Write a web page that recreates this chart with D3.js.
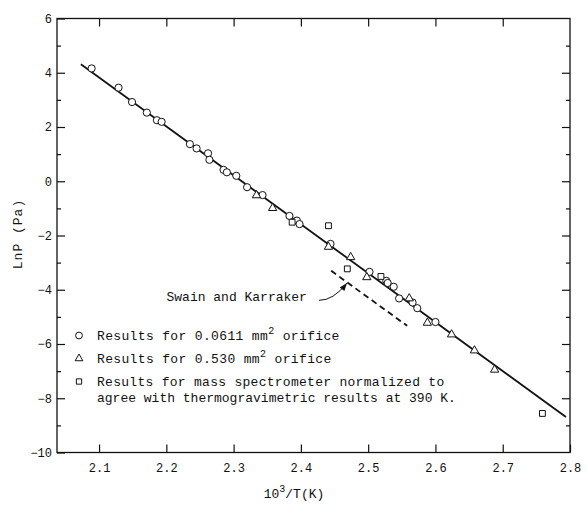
<!DOCTYPE html>
<html><head><meta charset="utf-8">
<script src="https://cdn.jsdelivr.net/npm/d3@7"></script>
<style>
html,body{margin:0;padding:0;background:#fff;}
text{font-family:"Liberation Mono","DejaVu Sans Mono",monospace;fill:#111;}
</style></head>
<body><svg id="c" width="587" height="509"></svg>
<script>
// ---- data ----
const circleX = [2.089,2.129,2.149,2.171,2.186,2.193,2.235,2.245,2.262,2.264,2.285,2.290,2.304,2.320,2.343,2.383,2.394,2.398,2.444,2.502,2.527,2.529,2.538,2.546,2.566,2.573,2.600];
const circleY = [4.16,3.45,2.92,2.53,2.25,2.19,1.37,1.21,1.03,0.79,0.42,0.33,0.20,-0.22,-0.51,-1.28,-1.45,-1.58,-2.31,-3.34,-3.67,-3.75,-3.89,-4.32,-4.47,-4.68,-5.19];
const triX = [2.334,2.358,2.441,2.474,2.498,2.561,2.588,2.624,2.658,2.688];
const triY = [-0.52,-0.99,-2.42,-2.80,-3.54,-4.32,-5.22,-5.65,-6.24,-6.95];
const sqX = [2.387,2.441,2.469,2.519,2.759];
const sqY = [-1.51,-1.64,-3.23,-3.51,-8.56];
const fitX = [2.073,2.794];
const fitY = [4.31,-8.69];
const skX = [2.445,2.558];
const skY = [-3.30,-5.33];
const arrowX = [2.427,2.448,2.4685];
const arrowY = [-4.39,-4.40,-3.75];
const xTicks = [2.1,2.2,2.3,2.4,2.5,2.6,2.7,2.8];
const yTicks = [-10,-8,-6,-4,-2,0,2,4,6];
const yMinor = [-9,-7,-5,-3,-1,1,3,5];
const legendLabels = ["Results for 0.0611 mm","Results for 0.530 mm","Results for mass spectrometer normalized to","agree with thermogravimetric results at 390 K."];

// ---- chart ----
const svg = d3.select("#c");
const L=57,R=570,T=18.5,B=452.5;
const x = d3.scaleLinear().domain([2.0375,2.8]).range([L,R]);
const y = d3.scaleLinear().domain([-10,6]).range([B,T]);

svg.append("rect").attr("width",587).attr("height",509).attr("fill","#fff");

const ax = (g)=>{g.select(".domain").remove(); g.selectAll("line").attr("stroke","#111").attr("stroke-width",1.2); g.selectAll("text").style("font-size","12px").style("font-family","Liberation Mono, DejaVu Sans Mono, monospace").attr("fill","#111");};

svg.append("g").attr("transform",`translate(0,${B})`)
  .call(d3.axisBottom(x).tickValues(xTicks).tickSize(-8).tickPadding(11).tickFormat(d3.format(".1f"))).call(ax);
svg.append("g").attr("transform",`translate(0,${T})`)
  .call(d3.axisTop(x).tickValues(xTicks.slice(0,-1)).tickSize(-8).tickFormat("")).call(ax);
svg.append("g").attr("transform",`translate(${L},0)`)
  .call(d3.axisLeft(y).tickValues(yTicks).tickSize(-8).tickPadding(5).tickFormat(d3.format("d"))).call(ax);
svg.append("g").attr("transform",`translate(${L},0)`)
  .call(d3.axisLeft(y).tickValues(yMinor).tickSize(-4).tickFormat("")).call(ax);
svg.append("g").attr("transform",`translate(${R},0)`)
  .call(d3.axisRight(y).tickValues(yTicks.slice(1,-1)).tickSize(-8).tickFormat("")).call(ax);
svg.append("g").attr("transform",`translate(${R},0)`)
  .call(d3.axisRight(y).tickValues(yMinor).tickSize(-4).tickFormat("")).call(ax);

svg.append("rect").attr("x",L).attr("y",T).attr("width",R-L).attr("height",B-T)
  .attr("fill","none").attr("stroke","#111").attr("stroke-width",1.3);

// fit line
const line = d3.line().x(d=>x(d[0])).y(d=>y(d[1]));
svg.append("path").attr("d",line(d3.zip(fitX,fitY))).attr("stroke","#111").attr("stroke-width",1.8).attr("fill","none");
svg.append("path").attr("d",line(d3.zip(skX,skY))).attr("stroke","#111").attr("stroke-width",1.8).attr("fill","none").attr("stroke-dasharray","6,4");

// arrow
const ap = d3.zip(arrowX,arrowY).map(d=>[x(d[0]),y(d[1])]);
svg.append("path").attr("d",`M${ap[0][0]},${ap[0][1]} Q${ap[1][0]},${ap[1][1]} ${ap[2][0]},${ap[2][1]}`)
  .attr("stroke","#111").attr("stroke-width",1).attr("fill","none");
{
  const tip=ap[2], c=ap[1];
  const ang=Math.atan2(tip[1]-c[1],tip[0]-c[0]);
  const len=8, w=3;
  const bx=tip[0]-len*Math.cos(ang), by=tip[1]-len*Math.sin(ang);
  const px=-Math.sin(ang)*w, py=Math.cos(ang)*w;
  svg.append("path").attr("d",`M${tip[0]},${tip[1]}L${bx+px},${by+py}L${bx-px},${by-py}Z`).attr("fill","#111");
}
svg.append("text").attr("x",166.5).attr("y",301).style("font-size","13px").text("Swain and Karraker");

// markers
const tri = d3.symbol().type(d3.symbolTriangle).size(30);
const sq = d3.symbol().type(d3.symbolSquare).size(34);
svg.append("g").selectAll("circle").data(d3.zip(circleX,circleY)).join("circle")
  .attr("cx",d=>x(d[0])).attr("cy",d=>y(d[1])).attr("r",3.6)
  .attr("fill","#fff").attr("stroke","#111").attr("stroke-width",1);
svg.append("g").selectAll("path").data(d3.zip(triX,triY)).join("path")
  .attr("d",tri).attr("transform",d=>`translate(${x(d[0])},${y(d[1])})`)
  .attr("fill","#fff").attr("stroke","#111").attr("stroke-width",1);
svg.append("g").selectAll("path").data(d3.zip(sqX,sqY)).join("path")
  .attr("d",sq).attr("transform",d=>`translate(${x(d[0])},${y(d[1])})`)
  .attr("fill","#fff").attr("stroke","#111").attr("stroke-width",1);

// legend
const lg = svg.append("g");
lg.append("circle").attr("cx",79).attr("cy",335.5).attr("r",3.4).attr("fill","#fff").attr("stroke","#111");
lg.append("path").attr("d",d3.symbol().type(d3.symbolTriangle).size(26)).attr("transform","translate(79,358.5)").attr("fill","#fff").attr("stroke","#111");
lg.append("path").attr("d",d3.symbol().type(d3.symbolSquare).size(28)).attr("transform","translate(79,381.5)").attr("fill","#fff").attr("stroke","#111");
const t1 = lg.append("text").attr("x",97).attr("y",339.5).style("font-size","13px").style("letter-spacing","0.35px");
t1.append("tspan").text(legendLabels[0]);
t1.append("tspan").attr("dy",-6).style("font-size","10px").text("2");
t1.append("tspan").attr("dy",6).text(" orifice");
const t2 = lg.append("text").attr("x",97).attr("y",362.5).style("font-size","13px").style("letter-spacing","0.35px");
t2.append("tspan").text(legendLabels[1]);
t2.append("tspan").attr("dy",-6).style("font-size","10px").text("2");
t2.append("tspan").attr("dy",6).text(" orifice");
lg.append("text").attr("x",97).attr("y",386).style("font-size","13px").style("letter-spacing","0.28px").text(legendLabels[2]);
lg.append("text").attr("x",97).attr("y",401.5).style("font-size","13px").text(legendLabels[3]);

// axis titles
const xt = svg.append("text").attr("x",294).attr("y",498).attr("text-anchor","middle").style("font-size","13px");
xt.append("tspan").text("10");
xt.append("tspan").attr("dy",-6).style("font-size","10px").text("3");
xt.append("tspan").attr("dy",6).text("/T(K)");
svg.append("text").attr("transform","translate(22,234) rotate(-90)").attr("text-anchor","middle")
  .style("font-size","13px").style("letter-spacing","1px").text("LnP (Pa)");
</script></body></html>
